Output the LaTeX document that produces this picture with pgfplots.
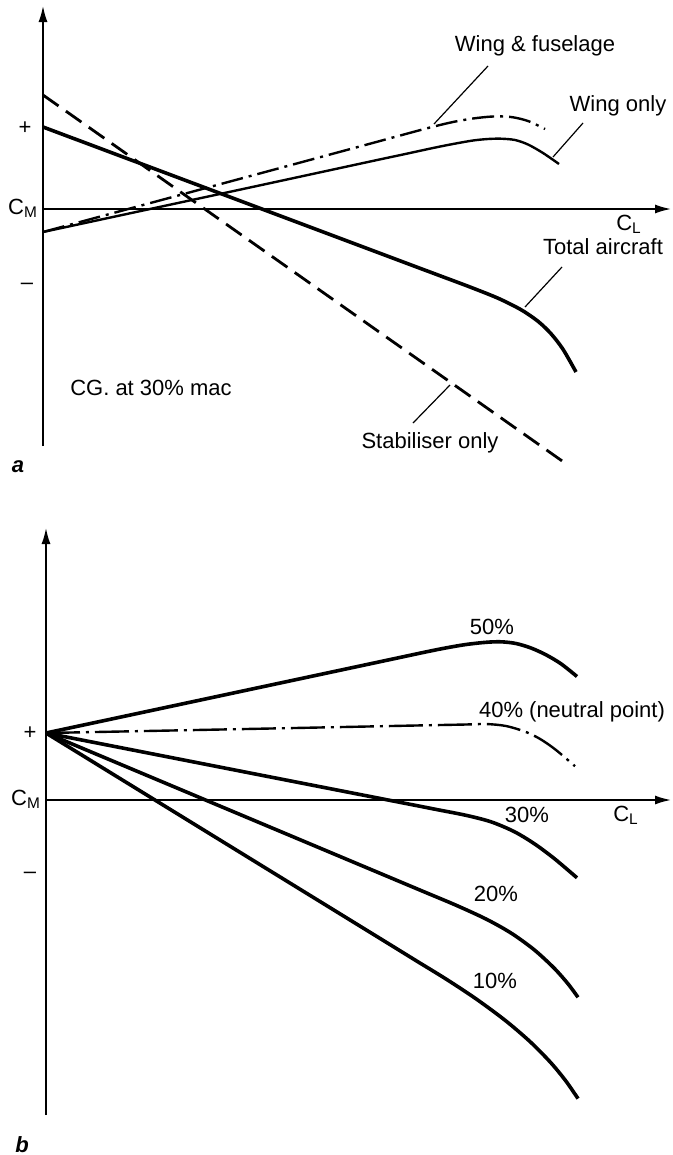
\documentclass[border=0pt]{standalone}
\usepackage{fontspec}
\setmainfont{Liberation Sans}
\usepackage{pgfplots}
\pgfplotsset{compat=1.18}
\usetikzlibrary{arrows.meta}

% schematic pitching-moment plots, 1 axis unit = 100 px of the scan
\pgfplotsset{
  moment/.style={
    axis lines=middle,
    x=50bp, y=50bp,
    anchor=origin,
    xtick=\empty, ytick=\empty,
    enlargelimits=false,
    clip=false,
    axis line style={line width=1.3bp, -{Latex[length=8.5bp,width=4.5bp]}},
  },
}
\tikzset{
  lbl/.style={font=\fontsize{11bp}{13bp}\selectfont, inner sep=0pt},
  leader/.style={line width=0.6bp},
  dashdot/.style={line width=1.2bp, dash pattern=on 11bp off 3bp on 1.5bp off 3bp},
}

\begin{document}
\begin{tikzpicture}

% ---- a ----
\begin{axis}[moment, at={(21.5bp,-104.5bp)},
  xmin=0, xmax=6.29, ymin=-2.37, ymax=2.04]
% total aircraft
\addplot[line width=1.8bp, smooth] coordinates {
(0,0.82) (2.0,0.071) (3.6,-0.529) (3.95,-0.660) (4.27,-0.78) (4.55,-0.892)
(4.78,-1.007) (4.95,-1.123) (5.08,-1.247) (5.20,-1.403) (5.33,-1.63)
};
% stabiliser only
\addplot[line width=1.4bp, dash pattern=on 9.5bp off 4.5bp] coordinates {
(0,1.14) (5.22,-2.54)
};
% wing only
\addplot[line width=1.2bp, smooth] coordinates {
(0,-0.23) (2.0,0.20) (3.3,0.481) (3.6,0.545) (3.9,0.61) (4.1,0.65)
(4.3,0.685) (4.45,0.70) (4.58,0.703) (4.72,0.69) (4.85,0.645) (5.0,0.56)
(5.16,0.45)
};
% wing & fuselage
\addplot[dashdot, smooth] coordinates {
(0,-0.23) (2.0,0.31) (3.2,0.634) (3.55,0.729) (3.87,0.815) (4.1,0.87)
(4.3,0.905) (4.5,0.925) (4.68,0.92) (4.85,0.88) (5.02,0.80)
};
\draw[leader] (4.45,1.43) -- (3.91,0.85);
\draw[leader] (5.40,0.86) -- (5.10,0.52);
\draw[leader] (5.19,-0.58) -- (4.82,-0.98);
\draw[leader] (3.70,-2.14) -- (4.07,-1.76);
\node[lbl] at (4.92,1.63) {Wing \& fuselage};
\node[lbl] at (5.75,1.03) {Wing only};
\node[lbl] at (5.60,-0.38) {Total aircraft};
\node[lbl] at (3.87,-2.34) {Stabiliser only};
\node[lbl] at (1.08,-1.79) {CG. at 30\% mac};
\node[lbl] at (5.86,-0.15) {C\textsubscript{L}};
\node[lbl] at (-0.20,0.01) {C\textsubscript{M}};
\node[lbl] at (-0.18,0.81) {+};
\node[lbl] at (-0.16,-0.77) {--};
\node[lbl] at (-0.25,-2.58) {\textbf{\textit{a}}};
\end{axis}

% ---- b ----
\begin{axis}[moment, at={(23bp,-400bp)},
  xmin=0, xmax=6.26, ymin=-3.15, ymax=2.73]
% 50%
\addplot[line width=1.8bp, smooth] coordinates {
(0,0.67) (2.0,1.097) (3.2,1.353) (3.5,1.417) (3.8,1.481) (4.0,1.521)
(4.2,1.555) (4.4,1.577) (4.55,1.582) (4.7,1.565) (4.85,1.52) (5.0,1.452)
(5.15,1.362) (5.31,1.235)
};
% 40% neutral point
\addplot[line width=1.2bp, smooth, dash pattern=on 17bp off 3bp on 1.5bp off 3bp] coordinates {
(0,0.67) (2.0,0.71) (3.6,0.743) (3.9,0.749) (4.2,0.755) (4.4,0.76)
(4.6,0.74) (4.8,0.68) (4.95,0.605) (5.1,0.50) (5.29,0.338)
};
% 30%
\addplot[line width=1.8bp, smooth] coordinates {
(0,0.67) (2.0,0.278) (3.6,-0.035) (3.9,-0.094) (4.2,-0.153) (4.45,-0.218)
(4.68,-0.315) (4.88,-0.435) (5.08,-0.583) (5.31,-0.778)
};
% 20%
\addplot[line width=1.8bp, smooth] coordinates {
(0,0.67) (2.0,-0.17) (3.5,-0.80) (3.8,-0.926) (4.1,-1.052) (4.4,-1.19)
(4.65,-1.33) (4.88,-1.496) (5.08,-1.68) (5.22,-1.838) (5.32,-1.973)
};
% 10%
\addplot[line width=1.8bp, smooth] coordinates {
(0,0.67) (2.0,-0.56) (3.4,-1.421) (3.7,-1.606) (4.0,-1.79) (4.3,-1.988)
(4.6,-2.21) (4.85,-2.425) (5.05,-2.629) (5.2,-2.812) (5.32,-2.986)
};
\node[lbl] at (4.46,1.73) {50\%};
\node[lbl] at (5.26,0.88) {40\% (neutral point)};
\node[lbl] at (4.81,-0.15) {30\%};
\node[lbl] at (4.50,-0.94) {20\%};
\node[lbl] at (4.49,-1.81) {10\%};
\node[lbl] at (5.80,-0.15) {C\textsubscript{L}};
\node[lbl] at (-0.20,0.01) {C\textsubscript{M}};
\node[lbl] at (-0.16,0.67) {+};
\node[lbl] at (-0.16,-0.75) {--};
\node[lbl] at (-0.24,-3.45) {\textbf{\textit{b}}};
\end{axis}

\pgfresetboundingbox
\path[use as bounding box] (0,0) rectangle (336.5bp,-577.5bp);
\end{tikzpicture}
\end{document}
